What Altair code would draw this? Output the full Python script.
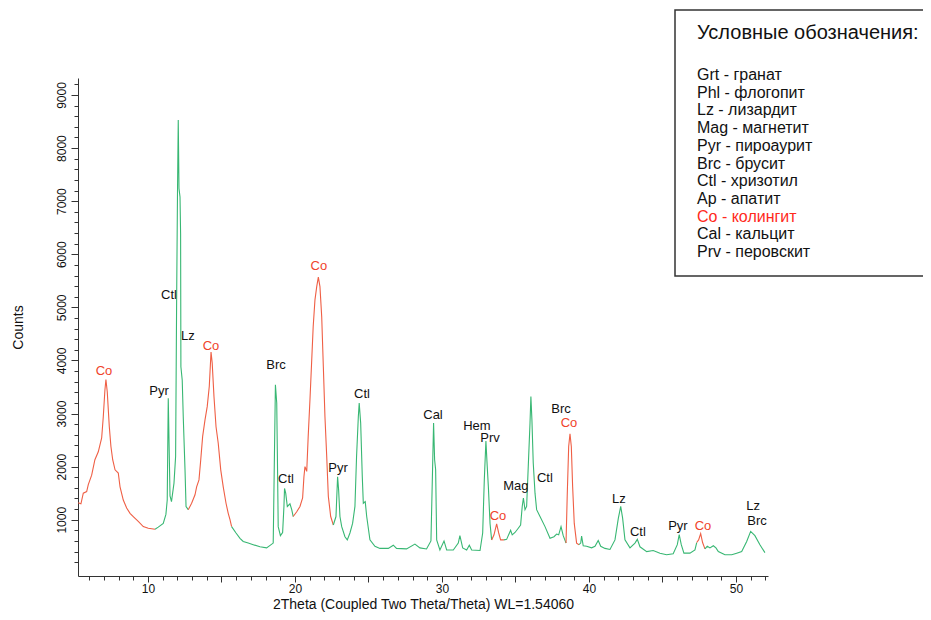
import altair as alt
import pandas as pd

# ---------------- data ----------------
two_theta = [
    5.25, 5.44, 5.60, 5.83, 5.94, 6.17, 6.39, 6.62, 6.85, 6.96, 7.07, 7.14, 7.23, 7.37, 7.48, 7.60,
    7.76, 7.98, 8.10, 8.32, 8.55, 8.78, 9.00, 9.34, 9.68, 10.02, 10.48, 10.70, 11.04, 11.22, 11.31,
    11.38, 11.50, 11.60, 11.77, 11.88, 11.95, 12.01, 12.06, 12.11, 12.18, 12.22, 12.24, 12.33, 12.40,
    12.52, 12.59, 12.74, 12.97, 13.20, 13.31, 13.47, 13.59, 13.72, 13.88, 14.03, 14.17, 14.29, 14.37,
    14.49, 14.63, 14.78, 14.95, 15.12, 15.31, 15.46, 15.58, 15.69, 15.99, 16.26, 16.48, 16.82, 17.16,
    17.62, 18.07, 18.52, 18.67, 18.76, 18.80, 18.86, 19.01, 19.16, 19.25, 19.29, 19.37, 19.48, 19.66,
    19.78, 19.88, 20.12, 20.34, 20.52, 20.61, 20.68, 20.80, 20.90, 21.02, 21.14, 21.24, 21.36, 21.48,
    21.59, 21.70, 21.82, 21.93, 22.04, 22.16, 22.27, 22.43, 22.61, 22.79, 22.90, 22.97, 23.06, 23.18,
    23.40, 23.56, 23.74, 23.92, 24.08, 24.19, 24.31, 24.37, 24.47, 24.58, 24.65, 24.78, 24.88, 25.10,
    25.44, 25.78, 26.35, 26.69, 26.91, 27.59, 28.16, 28.50, 28.95, 29.25, 29.37, 29.43, 29.50, 29.57,
    29.64, 29.86, 30.14, 30.32, 30.77, 31.11, 31.22, 31.41, 31.68, 31.86, 32.02, 32.59, 32.77, 32.88,
    32.99, 33.08, 33.16, 33.27, 33.38, 33.54, 33.72, 33.86, 33.99, 34.22, 34.40, 34.67, 34.78, 34.97,
    35.19, 35.35, 35.46, 35.54, 35.65, 35.76, 35.87, 35.99, 36.05, 36.12, 36.21, 36.33, 36.44, 36.67,
    37.01, 37.35, 37.62, 37.80, 37.94, 38.10, 38.25, 38.44, 38.52, 38.62, 38.71, 38.80, 38.89, 39.00,
    39.16, 39.32, 39.44, 39.50, 39.61, 39.84, 40.18, 40.41, 40.63, 40.80, 41.09, 41.43, 41.77, 42.00,
    42.16, 42.29, 42.45, 42.79, 43.13, 43.29, 43.47, 43.93, 44.37, 44.83, 45.28, 45.73, 46.01, 46.14,
    46.28, 46.46, 46.87, 47.21, 47.33, 47.46, 47.60, 47.73, 47.89, 48.05, 48.23, 48.46, 48.64, 48.80,
    49.25, 49.71, 50.05, 50.39, 50.73, 51.00, 51.29, 51.63, 51.97,
]
counts = [
    1320, 1300, 1500, 1530, 1660, 1840, 2130, 2280, 2540, 2940, 3440, 3640, 3410, 2750, 2380, 2130,
    1940, 1880, 1620, 1370, 1220, 1120, 1060, 970, 870, 840, 820, 860, 930, 1100, 1370,
    3290, 1450, 1340, 1690, 2190, 5140, 7210, 8530, 7240, 7080, 6390, 3880, 3630, 2940,
    1940, 1250, 1190, 1310, 1470, 1620, 1750, 2130, 2570, 2880, 3130, 3510, 4160, 3950,
    3320, 2750, 2440, 1940, 1620, 1310, 1120, 1000, 870, 750, 650, 590, 560, 530,
    490, 470, 560, 3540, 3200, 2300, 870, 700, 760, 1250, 1590, 1500, 1250, 1300,
    1190, 1060, 1150, 1250, 1410, 1810, 2000, 1910, 2570, 3260, 4010, 4640, 5140, 5390,
    5570, 5390, 4820, 3880, 2940, 2190, 1440, 1060, 900, 1060, 1810, 1560, 1060, 870,
    680, 620, 750, 930, 1250, 2190, 2940, 3200, 2820, 1810, 1310, 1340, 1060, 620,
    500, 460, 460, 520, 460, 450, 540, 470, 450, 600, 2070, 2820, 2130, 1940,
    620, 430, 600, 430, 430, 560, 700, 470, 430, 520, 430, 420, 750, 1750,
    2480, 2000, 1600, 930, 620, 715, 920, 750, 620, 620, 630, 800, 715, 760,
    840, 900, 1250, 1410, 1190, 1250, 2000, 2820, 3320, 2880, 2070, 1500, 1190, 1060,
    870, 650, 680, 730, 715, 870, 700, 560, 1440, 2380, 2620, 2380, 1620, 930,
    560, 530, 560, 690, 510, 500, 470, 500, 610, 500, 460, 440, 620, 1030,
    1250, 1030, 620, 470, 560, 630, 490, 400, 420, 370, 340, 360, 530, 720,
    530, 370, 370, 430, 570, 620, 740, 570, 450, 500, 470, 510, 470, 400,
    340, 340, 370, 400, 590, 780, 700, 530, 380,
]
assert len(two_theta) == len(counts)

# 2Theta ranges drawn in red (colingite, Co)
co_ranges = [(5.0, 10.48), (12.74, 15.69), (19.88, 22.61), (33.38, 34.22), (38.44, 39.32), (47.33, 47.89)]

# peak annotations
peak_text = ["Co", "Pyr", "Ctl", "Lz", "Co", "Brc", "Ctl", "Co", "Pyr", "Ctl", "Cal", "Hem", "Prv",
             "Co", "Mag", "Ctl", "Brc", "Co", "Lz", "Ctl", "Pyr", "Co", "Lz", "Brc"]
peak_x = [7.01, 10.75, 11.43, 12.72, 14.29, 18.71, 19.39, 21.63, 22.93, 24.56, 29.39, 32.38, 33.27,
          33.81, 35.03, 37.00, 38.10, 38.64, 42.04, 43.33, 46.05, 47.76, 51.16, 51.43]
peak_y = [3800, 3425, 5232, 4460, 4272, 3915, 1769, 5778, 1976, 3369, 2974, 2760, 2530,
          1073, 1637, 1788, 3080, 2830, 1393, 772, 885, 885, 1250, 975]

legend_title = "Условные обозначения:"
legend_items = ["Grt - гранат", "Phl - флогопит", "Lz - лизардит", "Mag - магнетит",
                "Pyr - пироаурит", "Brc - брусит", "Ctl - хризотил", "Ap - апатит",
                "Co - колингит", "Cal - кальцит", "Prv - перовскит"]
legend_is_co = [False, False, False, False, False, False, False, False, True, False, False]

x_title = "2Theta (Coupled Two Theta/Theta) WL=1.54060"
y_title = "Counts"
x_domain = [5.24, 52.18]
y_domain = [-60, 9320]

# ---------------- styling ----------------
RED = "#ef5f45"
GREEN = "#38b773"
RED_TEXT = "#f0432b"
LEG_RED = "#ff2a1c"
FONT = "Liberation Sans"

W, H = 690, 498


def in_co(v):
    return any(a <= v <= b for a, b in co_ranges)


rows = []
seg = 0
prev = None
for i in range(len(two_theta) - 1):
    kind = "Co" if (in_co(two_theta[i]) and in_co(two_theta[i + 1])) else "other"
    if kind != prev:
        seg += 1
        rows.append(dict(x=two_theta[i], y=counts[i], seg=seg, kind=kind))
    rows.append(dict(x=two_theta[i + 1], y=counts[i + 1], seg=seg, kind=kind))
    prev = kind
line_df = pd.DataFrame(rows)

peak_df = pd.DataFrame({"x": peak_x, "y": peak_y, "t": peak_text,
                        "lab": ["Co" if t == "Co" else "other" for t in peak_text]})

xs = alt.Scale(domain=x_domain, nice=False, zero=False)
ys = alt.Scale(domain=y_domain, nice=False, zero=False)

lines = alt.Chart(line_df).mark_line(strokeWidth=1.1).encode(
    x=alt.X("x:Q", scale=xs, axis=alt.Axis(
        values=[10, 15, 20, 25, 30, 35, 40, 45, 50],
        labelExpr="datum.value % 10 === 0 ? datum.label : ''",
        tickSize=6, labelPadding=1, labelFontSize=12, orient="bottom",
        title=x_title, titleFontSize=14, titleFontWeight="normal", titlePadding=3)),
    y=alt.Y("y:Q", scale=ys, axis=alt.Axis(
        values=[1000, 2000, 3000, 4000, 5000, 6000, 7000, 8000, 9000], format="d",
        tickSize=7, labelAngle=270, labelAlign="center", labelBaseline="alphabetic",
        labelPadding=6, labelFontSize=12, orient="left",
        title=y_title, titleFontSize=14, titleFontWeight="normal", titlePadding=30)),
    color=alt.Color("kind:N", scale=alt.Scale(domain=["Co", "other"], range=[RED, GREEN]), legend=None),
    detail="seg:N",
)

labels = alt.Chart(peak_df).mark_text(font=FONT, fontSize=13, baseline="middle", align="center").encode(
    x=alt.X("x:Q", scale=xs, axis=alt.Axis(values=list(range(6, 53)), tickSize=4, labels=False,
                                             domain=False, title=None, orient="bottom")),
    y=alt.Y("y:Q", scale=ys, axis=alt.Axis(values=list(range(200, 9400, 200)), tickSize=4, labels=False,
                                             domain=False, title=None, orient="left")),
    text="t:N",
    color=alt.Color("lab:N", scale=alt.Scale(domain=["Co", "other"], range=[RED_TEXT, "#111111"]), legend=None),
)

box = alt.Chart(pd.DataFrame({"a": [0]})).mark_rect(fill="white", stroke="#333333", strokeWidth=1.5).encode(
    x=alt.value(597), x2=alt.value(880), y=alt.value(-68), y2=alt.value(198))

legend_layers = [box,
                 alt.Chart(pd.DataFrame({"t": [legend_title]})).mark_text(
                     font=FONT, fontSize=20, align="left", baseline="middle", color="#111111").encode(
                     x=alt.value(619), y=alt.value(-45), text="t:N")]
for i, (lab, is_co) in enumerate(zip(legend_items, legend_is_co)):
    legend_layers.append(
        alt.Chart(pd.DataFrame({"t": [lab]})).mark_text(
            font=FONT, fontSize=16, align="left", baseline="middle",
            color=LEG_RED if is_co else "#111111").encode(
            x=alt.value(619), y=alt.value(-3 + i * 17.7), text="t:N"))

chart = alt.layer(lines, labels, *legend_layers).resolve_axis(
    x="independent", y="independent"
).resolve_scale(
    color="independent"
).properties(
    width=W, height=H,
    autosize=alt.AutoSizeParams(type="none"),
    padding={"left": 70, "top": 70, "right": 155, "bottom": 36},
    background="white",
).configure_view(strokeWidth=0).configure_axis(
    grid=False, domainColor="#333333", tickColor="#333333", labelColor="#111111",
    titleColor="#111111", labelFont=FONT, titleFont=FONT, domainWidth=1, tickWidth=1,
)

chart.save("out.html", embed_options={"renderer": "svg", "actions": False})
